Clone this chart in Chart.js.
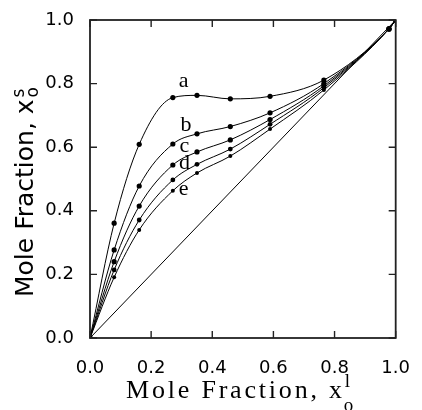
<!DOCTYPE html>
<html>
<head>
<meta charset="utf-8">
<script src="https://cdn.jsdelivr.net/npm/chart.js@4.4.1/dist/chart.umd.min.js"></script>
<style>
  html, body { margin: 0; padding: 0; background: #fff; }
  canvas { display: block; }
</style>
</head>
<body>
<canvas id="fractionChart" width="422" height="410"></canvas>
<script>
// Dados (fração molar na fase líquida x superfície)
const xValues = [0, 0.079, 0.161, 0.271, 0.350, 0.459, 0.589, 0.765, 0.978, 1.0];
const curveA = [0, 0.361, 0.609, 0.756, 0.763, 0.752, 0.760, 0.811, 0.972, 1.0];
const curveB = [0, 0.277, 0.478, 0.610, 0.642, 0.665, 0.708, 0.800, 0.972, 1.0];
const curveC = [0, 0.240, 0.415, 0.544, 0.585, 0.623, 0.687, 0.793, 0.972, 1.0];
const curveD = [0, 0.214, 0.371, 0.497, 0.546, 0.594, 0.672, 0.787, 0.972, 1.0];
const curveE = [0, 0.191, 0.340, 0.463, 0.519, 0.572, 0.657, 0.780, 0.972, 1.0];
const diagonal = [0, 1];
const curveNames = ['a', 'b', 'c', 'd', 'e'];
const tickValues = [0, 0.2, 0.4, 0.6, 0.8, 1.0];

// Onde ficam as letras de cada curva (coordenadas de dados)
const nameAt = [[0.306, 0.808], [0.314, 0.670], [0.309, 0.602], [0.309, 0.549], [0.306, 0.469]];

const toPoints = (ys) => ys.map((y, i) => ({ x: xValues[i], y: y }));

function curve(ys, radius) {
    return {
        data: toPoints(ys),
        borderColor: '#000',
        backgroundColor: '#000',
        borderWidth: 1,
        pointRadius: radius,
        pointBorderWidth: 0,
        showLine: true,
        cubicInterpolationMode: 'monotone'
    };
}

// Moldura com marcas para dentro (desenhada logo depois das linhas)
const framePlugin = {
    id: 'framePlugin',
    afterDatasetsDraw(chart) {
        const ctx = chart.ctx;
        const xs = chart.scales.x;
        const ys = chart.scales.y;
        const L = xs.getPixelForValue(0);
        const R = xs.getPixelForValue(1);
        const T = ys.getPixelForValue(1);
        const B = ys.getPixelForValue(0);
        ctx.save();
        ctx.strokeStyle = '#222';
        ctx.lineWidth = 1.8;
        ctx.strokeRect(L, T, R - L, B - T);
        const len = 7;
        ctx.lineWidth = 1.4;
        ctx.beginPath();
        tickValues.forEach(v => {
            const px = xs.getPixelForValue(v);
            const py = ys.getPixelForValue(v);
            ctx.moveTo(px, B); ctx.lineTo(px, B - len);
            ctx.moveTo(px, T); ctx.lineTo(px, T + len);
            ctx.moveTo(L, py); ctx.lineTo(L + len, py);
            ctx.moveTo(R, py); ctx.lineTo(R - len, py);
        });
        ctx.stroke();
        ctx.restore();
    }
};

// Letras e títulos dos eixos
const textPlugin = {
    id: 'textPlugin',
    afterDraw(chart) {
        const ctx = chart.ctx;
        const xs = chart.scales.x;
        const ys = chart.scales.y;
        ctx.save();
        ctx.fillStyle = '#000';
        ctx.font = '22px "Liberation Serif"';
        ctx.textAlign = 'center';
        ctx.textBaseline = 'middle';
        curveNames.forEach((n, i) => {
            ctx.fillText(n, xs.getPixelForValue(nameAt[i][0]), ys.getPixelForValue(nameAt[i][1]));
        });

        // título do eixo x (serifado, x com l em cima e o embaixo)
        ctx.textAlign = 'left';
        ctx.textBaseline = 'alphabetic';
        ctx.font = '26px "Liberation Serif"';
        ctx.letterSpacing = '2.8px';
        const xTitle = 'Mole Fraction, x';
        const tx = 126, ty = 398;
        ctx.fillText(xTitle, tx, ty);
        let w = ctx.measureText(xTitle).width;
        ctx.letterSpacing = '0px';
        ctx.font = '19px "Liberation Serif"';
        ctx.fillText('l', tx + w, ty - 11);
        ctx.fillText('o', tx + w - 1, ty + 13);

        // título do eixo y (sem serifa, girado)
        ctx.translate(33, 297);
        ctx.rotate(-Math.PI / 2);
        ctx.font = '25px "DejaVu Sans"';
        const yTitle = 'Mole Fraction, x';
        ctx.fillText(yTitle, 0, 0);
        w = ctx.measureText(yTitle).width;
        ctx.font = '17px "DejaVu Sans"';
        ctx.fillText('s', w + 2, -9);
        ctx.fillText('o', w + 2, 5);
        ctx.restore();
    }
};

const axisTicks = {
    min: 0,
    max: 1,
    ticks: {
        stepSize: 0.2,
        color: '#000',
        font: { family: 'DejaVu Sans', size: 18 },
        callback: (v) => Number(v).toFixed(1)
    },
    grid: { display: false },
    border: { display: false }
};

new Chart(document.getElementById('fractionChart'), {
    type: 'scatter',
    data: {
        datasets: [
            curve(curveA, 2.6),
            curve(curveB, 2.6),
            curve(curveC, 2.6),
            curve(curveD, 2.4),
            curve(curveE, 2.0),
            {
                data: diagonal.map(v => ({ x: v, y: v })),
                borderColor: '#000',
                borderWidth: 1,
                pointRadius: 0,
                showLine: true
            }
        ]
    },
    options: {
        responsive: false,
        animation: false,
        layout: { padding: { top: 20, right: 16, left: 0, bottom: 0 } },
        plugins: { legend: { display: false }, tooltip: { enabled: false } },
        scales: {
            x: {
                type: 'linear',
                ...axisTicks,
                ticks: { ...axisTicks.ticks, padding: 12, maxRotation: 0 },
                afterFit: (s) => { s.height = 72; }
            },
            y: {
                type: 'linear',
                ...axisTicks,
                ticks: { ...axisTicks.ticks, padding: 8 },
                afterFit: (s) => { s.width = 90; }
            }
        }
    },
    plugins: [framePlugin, textPlugin]
});
</script>
</body>
</html>
